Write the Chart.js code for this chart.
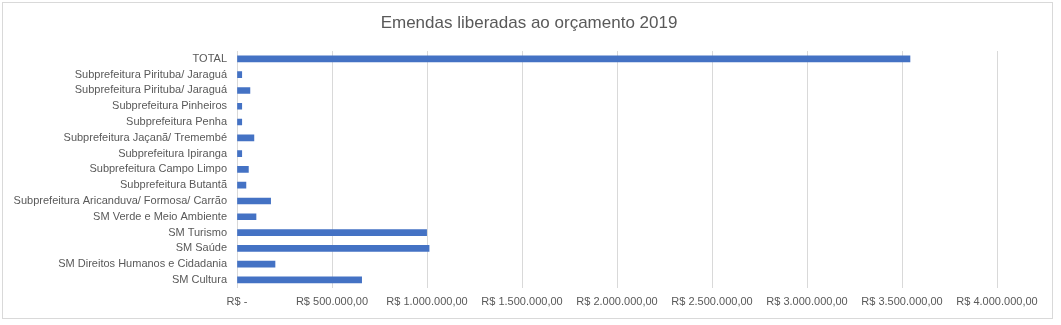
<!DOCTYPE html>
<html>
<head>
<meta charset="utf-8">
<script src="https://cdn.jsdelivr.net/npm/chart.js"></script>
<style>
  html, body { margin: 0; padding: 0; background: #fff; }
  canvas { display: block; }
</style>
</head>
<body>
<canvas id="emendasChart" width="1061" height="325"></canvas>
<script>
// Categories, top to bottom as in the picture
const categories = [
    'TOTAL',
    'Subprefeitura Pirituba/ Jaraguá',
    'Subprefeitura Pirituba/ Jaraguá',
    'Subprefeitura Pinheiros',
    'Subprefeitura Penha',
    'Subprefeitura Jaçanã/ Tremembé',
    'Subprefeitura Ipiranga',
    'Subprefeitura Campo Limpo',
    'Subprefeitura Butantã',
    'Subprefeitura Aricanduva/ Formosa/ Carrão',
    'SM Verde e Meio Ambiente',
    'SM Turismo',
    'SM Saúde',
    'SM Direitos Humanos e Cidadania',
    'SM Cultura'
];

// Values in R$
const valores = [
    3542000,
    25000,
    68000,
    25000,
    25000,
    89000,
    25000,
    60000,
    47000,
    177000,
    100000,
    998000,
    1011000,
    200000,
    656000
];

const xMin = 0;
const xMax = 4000000;
const xStep = 500000;

const textColor = '#595959';
const fontFamily = '"Liberation Sans", Arial, sans-serif';

function formatReais(v) {
    if (v === 0) return 'R$ -';
    const parts = Math.round(v).toString().replace(/\B(?=(\d{3})+(?!\d))/g, '.');
    return 'R$ ' + parts + ',00';
}

// Outer chart border, like the spreadsheet chart area
const borderPlugin = {
    id: 'chartBorder',
    beforeDraw(chart) {
        const ctx = chart.ctx;
        ctx.save();
        ctx.fillStyle = '#ffffff';
        ctx.fillRect(0, 0, chart.width, chart.height);
        ctx.strokeStyle = '#d9d9d9';
        ctx.lineWidth = 1;
        ctx.strokeRect(2.5, 2.5, 1050, 316);
        ctx.restore();
    }
};

const ctx = document.getElementById('emendasChart').getContext('2d');
new Chart(ctx, {
    type: 'bar',
    data: {
        labels: categories,
        datasets: [{
            label: 'Emendas',
            data: valores,
            backgroundColor: '#4472C4',
            barThickness: 6
        }]
    },
    options: {
        indexAxis: 'y',
        responsive: false,
        animation: false,
        layout: {
            padding: { left: 4, right: 7, top: 4, bottom: 8 }
        },
        plugins: {
            legend: { display: false },
            tooltip: { enabled: false },
            title: {
                display: true,
                text: 'Emendas liberadas ao orçamento 2019',
                color: textColor,
                font: { family: fontFamily, size: 17, weight: 'normal' },
                padding: { top: 9, bottom: 17.6 }
            }
        },
        scales: {
            x: {
                min: xMin,
                max: xMax,
                ticks: {
                    stepSize: xStep,
                    color: textColor,
                    font: { family: fontFamily, size: 11 },
                    padding: 8,
                    maxRotation: 0,
                    callback: v => formatReais(v)
                },
                grid: { color: '#d9d9d9', drawTicks: false },
                border: { display: false },
                afterFit(scale) { scale.paddingRight = 64; }
            },
            y: {
                ticks: {
                    color: textColor,
                    font: { family: fontFamily, size: 11 },
                    padding: 10,
                    autoSkip: false
                },
                grid: { display: false, drawTicks: false },
                border: { display: false },
                afterFit(scale) { scale.width = 233; }
            }
        }
    },
    plugins: [borderPlugin]
});
</script>
</body>
</html>
